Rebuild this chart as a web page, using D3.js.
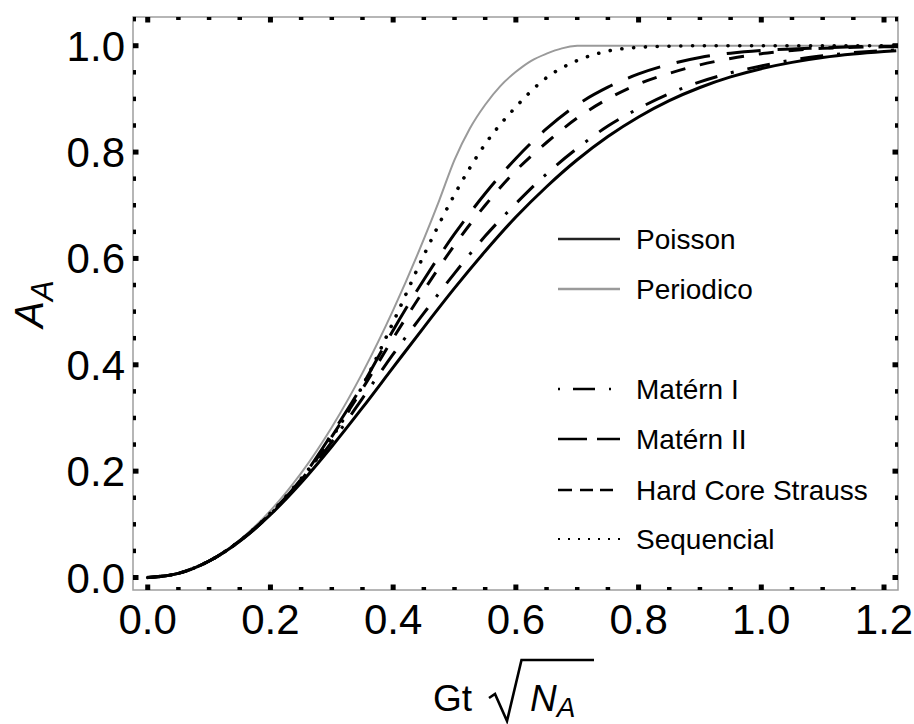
<!DOCTYPE html>
<html>
<head>
<meta charset="utf-8">
<script src="https://cdn.jsdelivr.net/npm/d3@7"></script>
<style>
  html, body { margin: 0; padding: 0; background: #fff; }
  svg { display: block; font-family: "Liberation Sans", Arial, sans-serif; }
</style>
</head>
<body>
<svg id="chart" width="914" height="724"></svg>
<script>
// Abscissa: G t sqrt(N_A)
const xs = [0, 0.05, 0.1, 0.15, 0.2, 0.25, 0.3, 0.35, 0.4, 0.45, 0.5, 0.55, 0.6,
            0.65, 0.7, 0.75, 0.8, 0.85, 0.9, 0.95, 1.0, 1.05, 1.1, 1.15, 1.2, 1.22];
// finer abscissa for the periodic lattice, which saturates quickly
const xsPeriodico = [0, 0.05, 0.1, 0.15, 0.2, 0.25, 0.3, 0.35, 0.4, 0.45, 0.475, 0.5, 0.525, 0.55,
                     0.575, 0.6, 0.625, 0.65, 0.675, 0.7, 0.7071, 0.8, 1.0, 1.22];

// Transformed area fraction A_A for each nucleation arrangement
const poisson    = [0, 0.0078, 0.0309, 0.0682, 0.1181, 0.1781, 0.2463, 0.3193, 0.3951, 0.4705, 0.5441, 0.6134, 0.6778,
                    0.7348, 0.7855, 0.8292, 0.8660, 0.8967, 0.9214, 0.9413, 0.9568, 0.9687, 0.9777, 0.9843, 0.9891, 0.9907];
const periodico  = [0, 0.0079, 0.0314, 0.0707, 0.1257, 0.1963, 0.2827, 0.3848, 0.5027, 0.6362, 0.7088, 0.7854, 0.8444, 0.889,
                    0.9246, 0.951, 0.9717, 0.985, 0.995, 0.9998, 1, 1, 1, 1];
const maternI    = [0, 0.0078, 0.031, 0.0685, 0.119, 0.181, 0.255, 0.337, 0.42, 0.497, 0.572, 0.642, 0.703,
                    0.759, 0.807, 0.849, 0.882, 0.910, 0.932, 0.949, 0.962, 0.973, 0.981, 0.987, 0.991, 0.992];
const maternII   = [0, 0.0078, 0.031, 0.069, 0.12, 0.185, 0.27, 0.362, 0.465, 0.56, 0.646, 0.722, 0.788,
                    0.844, 0.889, 0.922, 0.947, 0.965, 0.978, 0.986, 0.991, 0.994, 0.996, 0.998, 0.999, 0.999];
const hardCore   = [0, 0.0078, 0.031, 0.069, 0.12, 0.183, 0.265, 0.355, 0.45, 0.54, 0.625, 0.70, 0.765,
                    0.818, 0.864, 0.900, 0.928, 0.948, 0.964, 0.976, 0.985, 0.991, 0.995, 0.997, 0.998, 0.9985];
const sequencial = [0, 0.0078, 0.031, 0.069, 0.121, 0.186, 0.263, 0.36, 0.48, 0.606, 0.72, 0.815, 0.885,
                    0.94, 0.972, 0.99, 0.997, 0.999, 1, 1, 1, 1, 1, 1, 1, 1];

const seriesNames = ["Poisson", "Periodico", "Matérn I", "Matérn II", "Hard Core Strauss", "Sequencial"];

const xMajor = [0, 0.2, 0.4, 0.6, 0.8, 1.0, 1.2];
const yMajor = [0, 0.2, 0.4, 0.6, 0.8, 1.0];

const svg = d3.select("#chart");
const pLeft = 133, pRight = 898, pTop = 17, pBottom = 590;

const x = d3.scaleLinear().domain([-0.024, 1.2228]).range([pLeft, pRight]);
const y = d3.scaleLinear().domain([-0.0235, 1.054]).range([pBottom, pTop]);

// Line styles per series
const styles = [
  { xv: xs,          data: poisson,    color: "#000", width: 3, dash: null },
  { xv: xsPeriodico, data: periodico,  color: "#9a9a9a", width: 2, dash: null },
  { xv: xs,          data: maternI,    color: "#000", width: 3, dash: "23,14,3,14" },
  { xv: xs,          data: maternII,   color: "#000", width: 3, dash: "34,17" },
  { xv: xs,          data: hardCore,   color: "#000", width: 3, dash: "15,15" },
  { xv: xs,          data: sequencial, color: "#000", width: 3.6, dash: "0.1,11.7", cap: "round" }
];

svg.append("defs").append("clipPath").attr("id", "plotClip")
  .append("rect").attr("x", pLeft).attr("y", pTop)
  .attr("width", pRight - pLeft).attr("height", pBottom - pTop);

const plot = svg.append("g").attr("clip-path", "url(#plotClip)");
// periodic curve first so the black curves sit above it
[1, 5, 3, 4, 2, 0].forEach(k => {
  const s = styles[k];
  const line = d3.line()
    .x((d, i) => x(s.xv[i]))
    .y(d => y(d))
    .curve(d3.curveMonotoneX);
  plot.append("path")
    .attr("d", line(s.data))
    .attr("fill", "none")
    .attr("stroke", s.color)
    .attr("stroke-width", s.width)
    .attr("stroke-dasharray", s.dash)
    .attr("stroke-linecap", s.cap || "butt")
    .attr("stroke-linejoin", "round");
});

// Frame
svg.append("rect")
  .attr("x", pLeft).attr("y", pTop)
  .attr("width", pRight - pLeft).attr("height", pBottom - pTop)
  .attr("fill", "none").attr("stroke", "#9e9e9e").attr("stroke-width", 1.5);

// Ticks on all four sides (inward), major and minor
const xDom = x.domain(), yDom = y.domain();
const step = 0.05;
const xMinor = d3.range(Math.ceil(xDom[0] / step), Math.floor(xDom[1] / step) + 1)
  .map(k => k * step)
  .filter(v => !xMajor.some(m => Math.abs(m - v) < 1e-6));
const yMinor = d3.range(Math.ceil(yDom[0] / step), Math.floor(yDom[1] / step) + 1)
  .map(k => k * step)
  .filter(v => !yMajor.some(m => Math.abs(m - v) < 1e-6));

const tickG = svg.append("g").attr("fill", "#000");
function xTicks(vals, len, wid) {
  vals.forEach(v => {
    const px = x(v);
    tickG.append("rect").attr("x", px - wid / 2).attr("y", pBottom - len).attr("width", wid).attr("height", len);
    tickG.append("rect").attr("x", px - wid / 2).attr("y", pTop).attr("width", wid).attr("height", len);
  });
}
function yTicks(vals, len, wid) {
  vals.forEach(v => {
    const py = y(v);
    tickG.append("rect").attr("x", pLeft).attr("y", py - wid / 2).attr("width", len).attr("height", wid);
    tickG.append("rect").attr("x", pRight - len).attr("y", py - wid / 2).attr("width", len).attr("height", wid);
  });
}
xTicks(xMajor, 5.5, 5);
xTicks(xMinor, 3, 4.5);
yTicks(yMajor, 5.5, 5);
yTicks(yMinor, 3, 4.5);

// Tick labels
svg.append("g").selectAll("text").data(xMajor).join("text")
  .attr("x", d => x(d)).attr("y", 634)
  .attr("text-anchor", "middle")
  .attr("font-size", 42).attr("fill", "#000")
  .text(d => d.toFixed(1));

svg.append("g").selectAll("text").data(yMajor).join("text")
  .attr("x", 125).attr("y", d => y(d) + 15)
  .attr("text-anchor", "end")
  .attr("font-size", 42).attr("fill", "#000")
  .text(d => d.toFixed(1));

// Y axis title: A_A
const yTitle = svg.append("text")
  .attr("transform", "translate(43,304) rotate(-90)")
  .attr("text-anchor", "middle")
  .attr("font-size", 40).attr("font-style", "italic").attr("fill", "#000");
yTitle.append("tspan").text("A");
yTitle.append("tspan").attr("font-size", 31).attr("dy", 10).text("A");

// X axis title: Gt sqrt(N_A)
svg.append("text").attr("x", 433).attr("y", 711)
  .attr("font-size", 37).attr("fill", "#000").text("Gt");
svg.append("path")
  .attr("d", "M489,698 L495,694 L507,721 L521.5,660 L594,660")
  .attr("fill", "none").attr("stroke", "#000").attr("stroke-width", 2.6)
  .attr("stroke-linejoin", "miter");
const nA = svg.append("text").attr("x", 530).attr("y", 711)
  .attr("font-size", 37).attr("font-style", "italic").attr("fill", "#000");
nA.append("tspan").text("N");
nA.append("tspan").attr("font-size", 28).attr("dy", 6).text("A");

// Legend
const legendRows = [239, 289, 389, 439, 490, 539];
const legendDash = [null, null, "2,13,22,14,2,20", "29,10,23", "14,8,13,7,13,10", "2,8"];
const legendColor = ["#222", "#9a9a9a", "#000", "#000", "#000", "#000"];
const lg = svg.append("g");
seriesNames.forEach((name, i) => {
  const yy = legendRows[i];
  lg.append("line")
    .attr("x1", 558).attr("x2", 620).attr("y1", yy).attr("y2", yy)
    .attr("stroke", legendColor[i])
    .attr("stroke-width", i === 5 ? 2 : 2.5)
    .attr("stroke-dasharray", legendDash[i]);
  lg.append("text")
    .attr("x", 636).attr("y", yy + 10)
    .attr("font-size", 28).attr("fill", "#000")
    .text(name);
});
</script>
</body>
</html>
